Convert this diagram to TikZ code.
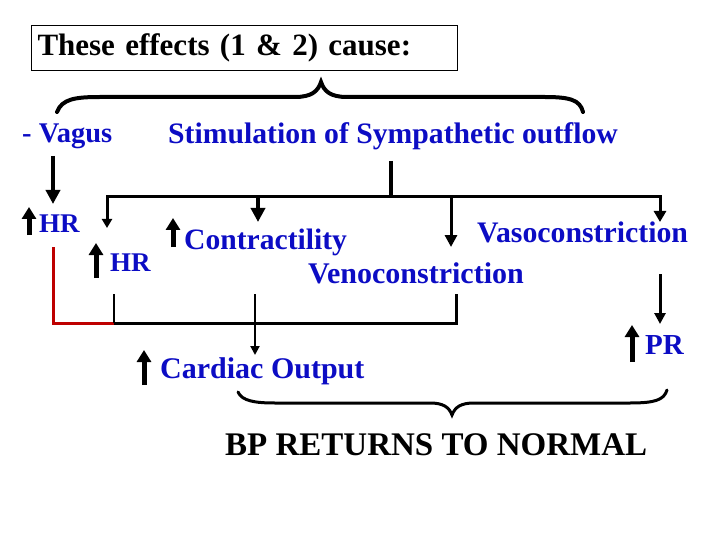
\documentclass[tikz,border=0pt]{standalone}
\usepackage{fontspec}
\setmainfont{Liberation Serif}
\usetikzlibrary{arrows.meta,calc}
\definecolor{txtblue}{RGB}{12,12,196}
\definecolor{loopred}{RGB}{190,0,0}
\newcommand{\fsz}[1]{\fontsize{#1}{#1}\selectfont}
\tikzset{
  lbl/.style={anchor=base west, inner sep=0pt, font=\bfseries\fsz{#1}, text=txtblue},
  upmark/.style={line width=5pt, -{Triangle[length=12pt,width=14pt]}},
  fatdown/.style={line width=4pt, -{Triangle[length=14pt,width=14pt]}},
  slimdown/.style={line width=2pt, -{Triangle[length=9pt,width=9pt]}},
  branch/.style={line width=3pt, line join=miter}
}
\begin{document}
\begin{tikzpicture}[x=1pt,y=-1pt]
  \useasboundingbox (0,0) rectangle (720,540);
  % heading box
  \node[draw, line width=1pt, anchor=north west, minimum width=426pt, minimum height=45pt,
        inner xsep=5pt, text width=414pt, font=\bfseries\fsz{31}] (title) at (31,25)
        {These effects (1 \& 2) cause:};
  % upper brace
  \draw[line width=4pt, line cap=round]
    (57,112) .. controls (62,99) and (75,97) .. (100,97) -- (295,97)
    .. controls (312,97) and (318,91) .. (321,82)
    .. controls (324,91) and (330,97) .. (347,97) -- (545,97)
    .. controls (570,97) and (580,100) .. (583,112);
  % labels
  \node[lbl=28.5] (vagus) at (22,143) {- Vagus};
  \node[lbl=29.7] (symp) at (168,144) {Stimulation of Sympathetic outflow};
  \node[lbl=27] (hrA) at (39,233) {HR};
  \node[lbl=27] (hrB) at (110,271) {HR};
  \node[lbl=29.6] (contr) at (184,249) {Contractility};
  \node[lbl=29.8] (vaso) at (477,242) {Vasoconstriction};
  \node[lbl=30] (veno) at (308,283) {Venoconstriction};
  \node[lbl=30] (co) at (160,378) {Cardiac Output};
  \node[lbl=29] (pr) at (645,354) {PR};
  \node[anchor=base west, inner sep=0pt, font=\bfseries\fsz{33}] (bp) at (225,455)
    {BP RETURNS TO NORMAL};
  % up marks in front of the labels
  \draw[upmark] ($(hrA.base west)+(-10,2)$) -- ++(0,-28);
  \draw[upmark] ($(hrB.base west)+(-14,7)$) -- ++(0,-35);
  \draw[upmark] ($(contr.base west)+(-11,-2)$) -- ++(0,-29);
  \draw[upmark] ($(co.base west)+(-16,7)$) -- ++(0,-35);
  \draw[upmark] ($(pr.base west)+(-13,8)$) -- ++(0,-37);
  % junction points
  \coordinate (vagA) at (53,156);
  \coordinate (vagB) at (53,204);
  \coordinate (sympA) at (391,161);
  \coordinate (sympB) at (391,197);
  \coordinate (busL) at (107,197);
  \coordinate (busR) at (660,197);
  \coordinate (hrBtop) at (107,228);
  \coordinate (vasoTop) at (660,222);
  \coordinate (contrTop) at (258,222);
  \coordinate (venoTop) at (451,247);
  \coordinate (redTop) at (53,247);
  \coordinate (redCorner) at (53,323);
  \coordinate (tickTop) at (114,294);
  \coordinate (tickBot) at (114,323);
  \coordinate (joinR) at (456,323);
  \coordinate (joinRtop) at (456,294);
  \coordinate (coA) at (255,294);
  \coordinate (coB) at (255,355);
  \coordinate (prA) at (660,274);
  \coordinate (prB) at (660,324);
  % sympathetic branches
  \draw[fatdown] (vagA) -- (vagB);
  \draw[line width=4pt] (sympA) -- (sympB);
  \draw[branch, {Triangle[length=9pt,width=10pt]}-{Triangle[length=11pt,width=12pt]}]
    (hrBtop) -- (busL) -- (busR) -- (vasoTop);
  \draw[fatdown] (contrTop |- busL) -- (contrTop);
  \draw[line width=3pt, -{Triangle[length=12pt,width=12pt]}] (venoTop |- busL) -- (venoTop);
  % joining to output
  \draw[branch, loopred] (redTop) -- (redCorner) -- (tickBot);
  \draw[line width=2pt] (tickTop) -- (tickBot);
  \draw[branch] (tickBot) -- (joinR) -- (joinRtop);
  \draw[slimdown] (coA) -- (coB);
  \draw[line width=3pt, -{Triangle[length=11pt,width=11pt]}] (prA) -- (prB);
  % lower brace
  \draw[line width=3pt, line cap=round]
    (238,392) .. controls (242,401) and (255,403) .. (275,403) -- (430,403)
    .. controls (443,403) and (449,407) .. (452,415)
    .. controls (455,407) and (461,403) .. (474,403) -- (630,403)
    .. controls (655,403) and (664,400) .. (667,390);
\end{tikzpicture}
\end{document}
